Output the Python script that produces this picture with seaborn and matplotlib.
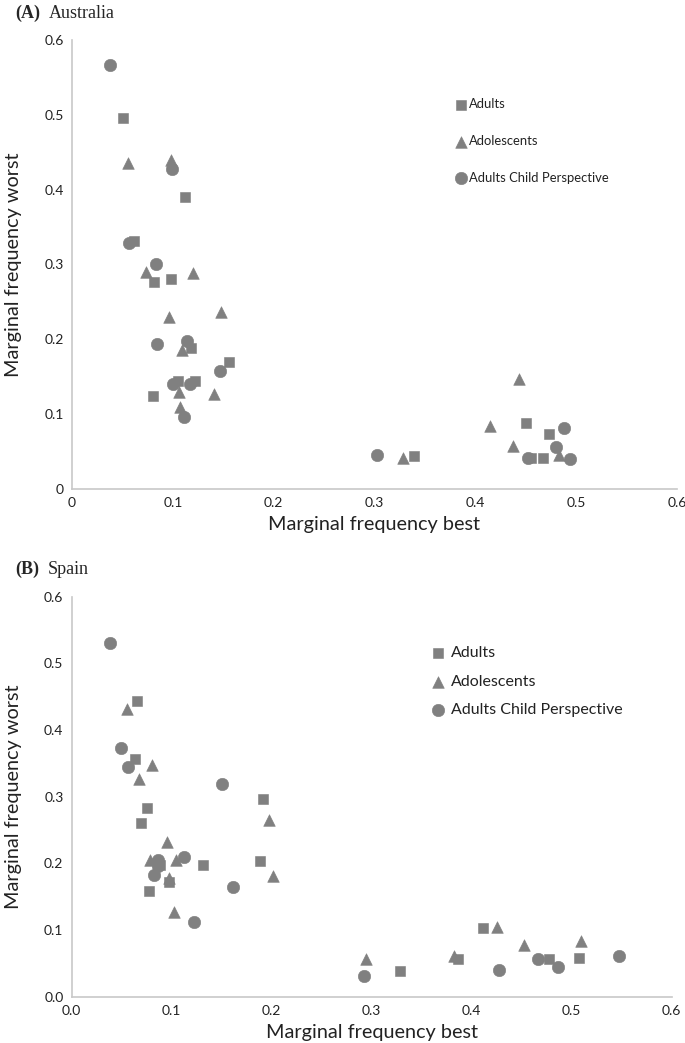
import matplotlib
matplotlib.use("Agg")
import matplotlib.pyplot as plt
import seaborn as sns
import pandas as pd

# --------------------
# Data
# --------------------

groups = ["Adults", "Adolescents", "Adults Child Perspective"]

# (A) Australia
aus_adults_best = [0.051, 0.112, 0.061, 0.081, 0.098, 0.118, 0.156, 0.105, 0.122, 0.080, 0.450, 0.473, 0.339, 0.455, 0.467]
aus_adults_worst = [0.496, 0.390, 0.331, 0.277, 0.280, 0.188, 0.170, 0.144, 0.144, 0.124, 0.088, 0.074, 0.044, 0.042, 0.041]
aus_adol_best = [0.056, 0.098, 0.073, 0.120, 0.096, 0.148, 0.109, 0.106, 0.141, 0.107, 0.443, 0.415, 0.437, 0.328, 0.483]
aus_adol_worst = [0.436, 0.440, 0.290, 0.288, 0.230, 0.236, 0.186, 0.129, 0.127, 0.110, 0.147, 0.084, 0.057, 0.042, 0.045]
aus_child_best = [0.038, 0.099, 0.057, 0.083, 0.084, 0.114, 0.147, 0.100, 0.117, 0.111, 0.488, 0.480, 0.302, 0.452, 0.494]
aus_child_worst = [0.566, 0.427, 0.328, 0.300, 0.194, 0.198, 0.157, 0.140, 0.140, 0.096, 0.081, 0.056, 0.046, 0.042, 0.040]

# (B) Spain
spa_adults_best = [0.065, 0.063, 0.191, 0.075, 0.069, 0.131, 0.188, 0.097, 0.077, 0.088, 0.411, 0.328, 0.386, 0.477, 0.507]
spa_adults_worst = [0.443, 0.356, 0.297, 0.283, 0.260, 0.198, 0.203, 0.172, 0.158, 0.197, 0.103, 0.039, 0.057, 0.056, 0.058]
spa_adol_best = [0.055, 0.080, 0.067, 0.095, 0.078, 0.104, 0.097, 0.102, 0.197, 0.201, 0.425, 0.452, 0.509, 0.294, 0.382]
spa_adol_worst = [0.431, 0.347, 0.326, 0.232, 0.205, 0.205, 0.178, 0.127, 0.265, 0.181, 0.105, 0.078, 0.084, 0.057, 0.061]
spa_child_best = [0.038, 0.049, 0.056, 0.150, 0.086, 0.086, 0.112, 0.082, 0.161, 0.122, 0.292, 0.427, 0.466, 0.486, 0.547]
spa_child_worst = [0.531, 0.373, 0.345, 0.319, 0.205, 0.196, 0.209, 0.182, 0.165, 0.112, 0.031, 0.040, 0.056, 0.044, 0.061]

ticks = [0.0, 0.1, 0.2, 0.3, 0.4, 0.5, 0.6]
aus_ticklabels = ["0", "0.1", "0.2", "0.3", "0.4", "0.5", "0.6"]
spa_ticklabels = ["0.0", "0.1", "0.2", "0.3", "0.4", "0.5", "0.6"]


def make_frame(best_lists, worst_lists):
    rows = []
    for g, b, w in zip(groups, best_lists, worst_lists):
        for xb, yw in zip(b, w):
            rows.append({"best": xb, "worst": yw, "group": g})
    return pd.DataFrame(rows)


aus = make_frame([aus_adults_best, aus_adol_best, aus_child_best],
                 [aus_adults_worst, aus_adol_worst, aus_child_worst])
spa = make_frame([spa_adults_best, spa_adol_best, spa_child_best],
                 [spa_adults_worst, spa_adol_worst, spa_child_worst])

# --------------------
# Style
# --------------------

sns.set_style("white")
plt.rcParams["font.family"] = ["Lato", "DejaVu Sans"]

gray = "#808080"
markers = {"Adults": "s", "Adolescents": "^", "Adults Child Perspective": "o"}
sizes_pt = {"Adults": 62, "Adolescents": 70, "Adults Child Perspective": 80}

fig = plt.figure(figsize=(6.85, 10.43), dpi=100)
ax_a = fig.add_axes([0.1051, 0.5312, 0.8832, 0.4305])
ax_b = fig.add_axes([0.1047, 0.0444, 0.8760, 0.3835])


def draw_panel(ax, df, ticklabels, legend_anchor, leg_size, spacing, textpad):
    for g in groups:
        sub = df[df["group"] == g]
        sns.scatterplot(data=sub, x="best", y="worst", marker=markers[g],
                        s=sizes_pt[g], color=gray, edgecolor=gray,
                        linewidth=0.4, label=g, ax=ax, zorder=3)
    ax.set_xlim(0, 0.6)
    ax.set_ylim(0, 0.6)
    ax.set_xticks(ticks)
    ax.set_yticks(ticks)
    ax.set_xticklabels(ticklabels)
    ax.set_yticklabels(ticklabels)
    ax.tick_params(length=0, labelsize=10, labelcolor="#222222", pad=6)
    for side in ["top", "right"]:
        ax.spines[side].set_visible(False)
    for side in ["left", "bottom"]:
        ax.spines[side].set_color("#c8c8c8")
        ax.spines[side].set_linewidth(1.2)
    ax.set_xlabel("Marginal frequency best", fontsize=14.3, color="#222222", labelpad=5)
    ax.set_ylabel("Marginal frequency worst", fontsize=14.3, color="#222222", labelpad=16)
    leg = ax.legend(loc="center left", bbox_to_anchor=legend_anchor, frameon=False,
                    fontsize=leg_size, labelspacing=spacing, handletextpad=textpad,
                    handlelength=1.0, borderaxespad=0)
    for t in leg.get_texts():
        t.set_color("#222222")


draw_panel(ax_a, aus, aus_ticklabels, (0.623, 0.775), 9.4, 1.9, 0.15)
draw_panel(ax_b, spa, spa_ticklabels, (0.587, 0.7875), 11.5, 0.9, 0.3)

# panel titles
fig.text(15 / 685, 1 - 13 / 1043, "(A)", fontsize=13, fontweight="bold",
         family="Liberation Serif", va="center")
fig.text(49 / 685, 1 - 13 / 1043, "Australia", fontsize=13,
         family="Liberation Serif", va="center")
fig.text(15 / 685, 1 - 569 / 1043, "(B)", fontsize=13, fontweight="bold",
         family="Liberation Serif", va="center")
fig.text(48 / 685, 1 - 569 / 1043, "Spain", fontsize=13,
         family="Liberation Serif", va="center")

fig.savefig("out.png", dpi=100)
